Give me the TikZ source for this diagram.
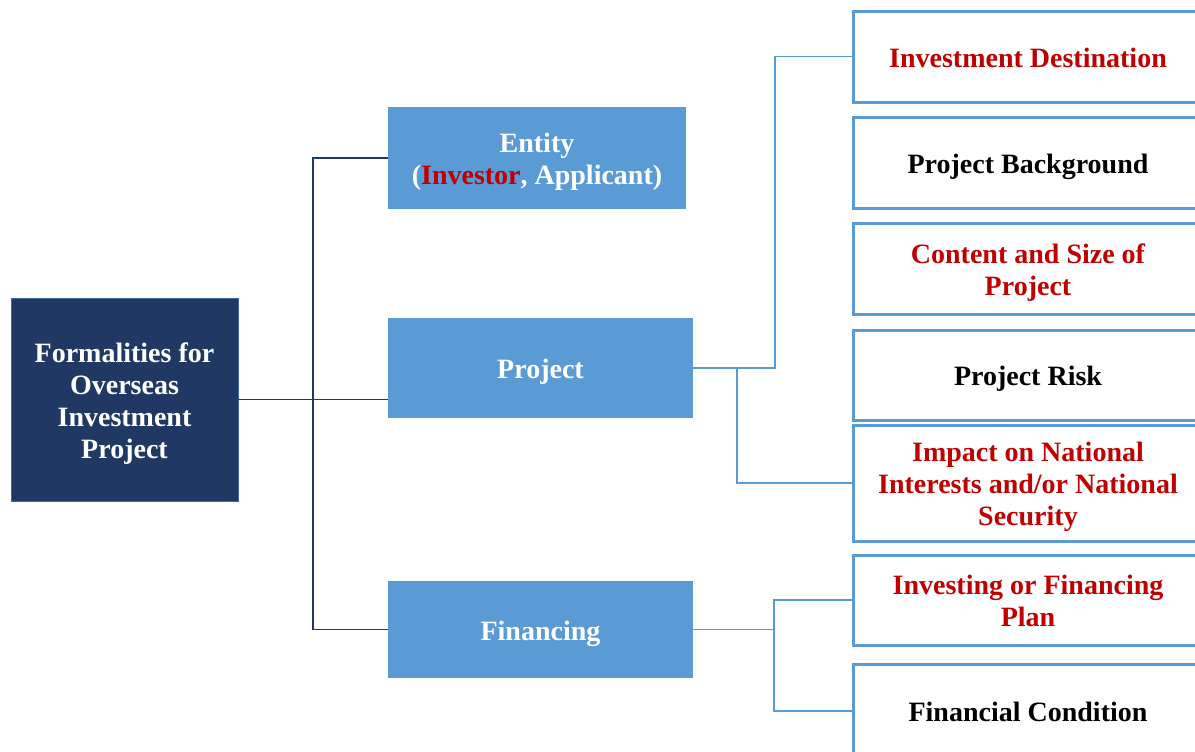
\documentclass[tikz,border=0pt]{standalone}
\usepackage{fontspec}
\setmainfont{Liberation Serif}
\usetikzlibrary{positioning,calc}
\definecolor{Navy}{RGB}{32,56,100}
\definecolor{SkyBlue}{RGB}{91,155,213}
\definecolor{Crimson}{RGB}{192,0,0}
\tikzset{
  % fixed text box: every line 24pt apart, 21pt above / 5pt below a baseline
  rows/.style={text height=\dimexpr 24pt*#1-3pt\relax,text depth=5pt},
  boxfont/.style={font=\fontsize{21}{24}\selectfont\bfseries,align=center,inner sep=0pt,rows=1},
  rootbox/.style={boxfont,draw=SkyBlue!50!Navy,thin,fill=Navy,text=white,minimum width=170.25pt,minimum height=152.25pt},
  topic/.style={boxfont,fill=SkyBlue,text=white,minimum width=228.75pt,minimum height=75pt},
  leaf/.style={boxfont,draw=SkyBlue,line width=2.25pt,fill=white,minimum width=262.5pt,minimum height=68.25pt},
  keyleaf/.style={leaf,text=Crimson},
  rootline/.style={draw=Navy,line width=1.3pt},
  leafline/.style={draw=SkyBlue,line width=1.1pt}
}

\begin{document}
\begin{tikzpicture}[x=0.75pt,y=-0.75pt]
\useasboundingbox (0,0) rectangle (1195,751);

% main box and first level
\node[rootbox,rows=4] (root) at (124.5,399.5) {Formalities for\\Overseas\\Investment\\Project};
\node[topic,rows=2,minimum width=223.5pt,minimum height=76.5pt] (entity) at (537,158) {Entity\\(\textcolor{Crimson}{Investor}, Applicant)};
\node[topic] (project) at (540.5,368) {Project};
\node[topic,minimum height=72.75pt] (financing) at (540.5,629.5) {Financing};

% items on the right
\node[keyleaf] (dest) at (1028,56.5) {Investment Destination};
\node[leaf] (background) at (1028,162.5) {Project Background};
\node[keyleaf,rows=2] (content) at (1028,268.5) {Content and Size of\\Project};
\node[leaf,minimum height=67.5pt] (risk) at (1028,375) {Project Risk};
\node[keyleaf,rows=3,minimum height=87pt] (impact) at (1028,483) {Impact on National\\Interests and/or National\\Security};
\node[keyleaf,rows=2,minimum height=67.5pt] (plan) at (1028,600) {Investing or Financing\\Plan};
\node[leaf,minimum height=70.5pt] (condition) at (1028,711) {Financial Condition};

% junction columns
\coordinate (trunk) at (313,0);
\coordinate (pjup) at (775,0);
\coordinate (pjdown) at (737,0);
\coordinate (fnup) at (774,0);

\draw[rootline](root.east)--(root.east-|project.west);\draw[rootline](entity.west)-|(trunk|-financing.west)--(financing.west);

\draw[leafline](project.east)-|(pjup|-dest.west)--(dest.west);\draw[leafline](project.east)-|(pjdown|-impact.west)--(impact.west);
\draw[leafline](financing.east)--(financing.east-|fnup);\draw[leafline](plan.west)-|(fnup|-condition.west)--(condition.west);
\end{tikzpicture}
\end{document}
